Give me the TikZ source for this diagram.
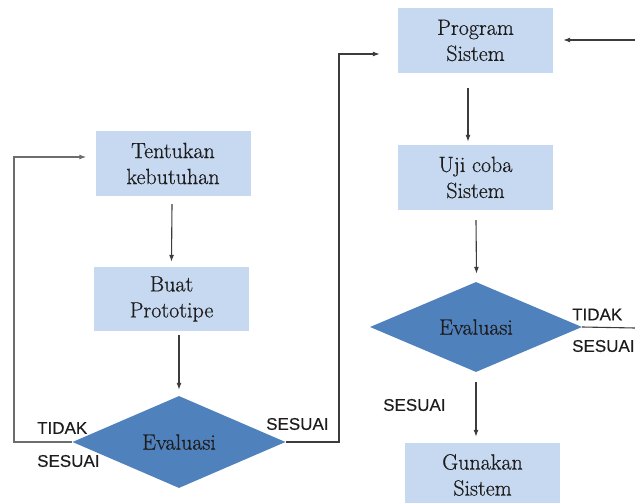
\documentclass[tikz,border=0pt]{standalone}
\usepackage{fontspec}
\newfontfamily\labelfont{Liberation Sans}[FakeBold=0.3]
\newfontfamily\boxfont{Latin Modern Roman}[FakeBold=0.6]
\usetikzlibrary{shapes.geometric,arrows.meta,calc}
\definecolor{boxblue}{RGB}{198,217,241}
\definecolor{diablue}{RGB}{79,129,189}
\definecolor{linegray}{RGB}{60,60,60}
\definecolor{txt}{RGB}{30,28,28}
\begin{document}
\begin{tikzpicture}[x=1pt,y=-1pt,
  stepbox/.style={rectangle,fill=boxblue,draw=none,minimum width=155pt,minimum height=65pt,
    inner sep=0pt,align=center,text=txt,font=\boxfont\fontsize{22}{26}\selectfont},
  decision/.style={diamond,fill=diablue,draw=none,inner sep=0pt,minimum width=213pt,
    minimum height=92pt,text=txt,font=\boxfont\fontsize{22}{26}\selectfont},
  lbl/.style={inner sep=0pt,text=txt,font=\labelfont\fontsize{17}{20}\selectfont},
  conn/.style={draw=linegray,line width=1.1pt},
  arr/.style={conn,-{Latex[length=7pt,width=5pt]}}]
\clip (0,0) rectangle (635,503);
\fill[white] (0,0) rectangle (635,503);
% nodes
\node[stepbox] (T) at (173,163.5) {Tentukan\\kebutuhan};
\node[stepbox,minimum height=64pt] (B) at (171.5,299) {Buat\\Prototipe};
\node[decision] (D1) at (179,442) {Evaluasi};
\node[stepbox] (P) at (475.5,40.5) {Program\\Sistem};
\node[stepbox] (U) at (475.5,177.5) {Uji coba\\Sistem};
\node[decision,minimum width=212pt,minimum height=90pt] (D2) at (476,327) {Evaluasi};
\node[stepbox,minimum height=64pt] (G) at (482.5,475) {Gunakan\\Sistem};
% labels
\node[lbl,anchor=west] (l1) at (37,428) {TIDAK};
\node[lbl,anchor=west] (l2) at (37,461) {SESUAI};
\node[lbl,anchor=west] (l3) at (266,424) {SESUAI};
\node[lbl,anchor=west] (l4) at (572,314.5) {TIDAK};
\node[lbl,anchor=west] (l5) at (572,346) {SESUAI};
\node[lbl,anchor=west] (l6) at (383,405) {SESUAI};
% helper coordinates
\coordinate (c1) at (14,442);
\coordinate (c2) at (339,442);
\coordinate (inR) at (635,40);
\coordinate (outR) at (635,328);
% connectors
\draw[arr] ($(T.south)+(-1,8)$) -- ($(B.north)+(0,-5)$);
\draw[arr] ($(B.south -| D1.north)+(0,4)$) -- ($(D1.north)+(0,-6)$);
\draw[arr,draw=linegray!75] (D1.west) -- (c1) |- ($(T.west)+(-9,-6.5)$);
\draw[arr] (D1.east) -- (c2) |- ($(P.west)+(-18,13.5)$);
\draw[arr] (inR) -- ($(P.east)+(10,-0.5)$);
\draw[arr] ($(P.south)+(-7.5,15)$) -- ($(U.north)+(-7.5,-3)$);
\draw[arr] ($(U.south)+(0.5,10)$) -- ($(D2.north)+(0.5,-8)$);
\draw[conn] (D2.east) -- (outR);
\draw[arr] ($(D2.south)+(0,10)$) -- ($(G.north -| D2.south)+(0,-6)$);
\end{tikzpicture}
\end{document}
